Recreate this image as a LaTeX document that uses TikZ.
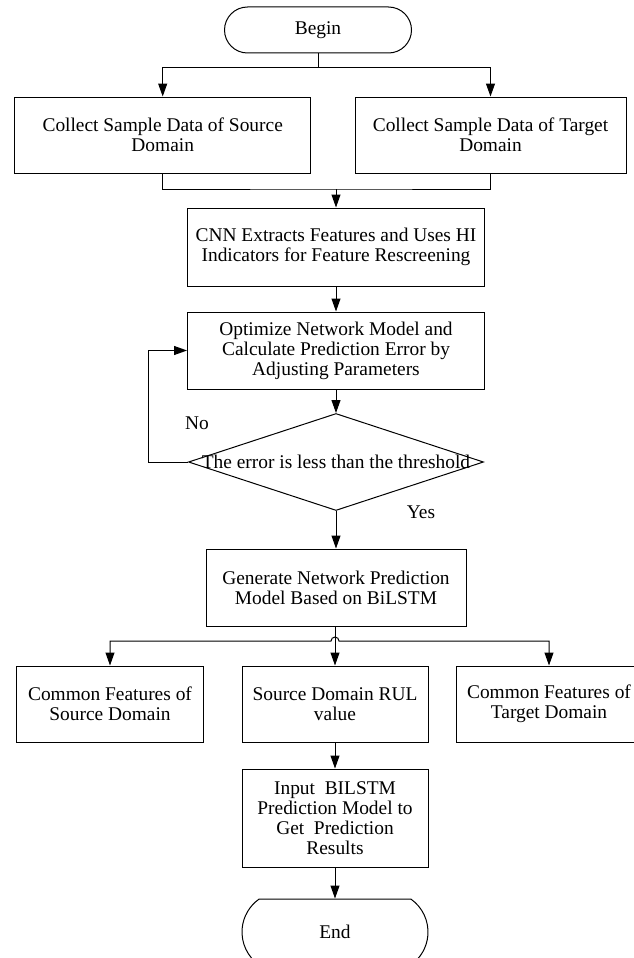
\documentclass[tikz,border=0pt]{standalone}
\usepackage{fontspec}
\setmainfont{Liberation Serif}
\usetikzlibrary{shapes.geometric,shapes.misc,arrows.meta,calc}

\begin{document}
\begin{tikzpicture}[x=1pt,y=-1pt,line width=1pt,
  font=\fontsize{19.4}{20}\selectfont,
  every node/.style={inner sep=0pt},
  procbox/.style={draw, rectangle, align=center, minimum height=76pt},
  termbox/.style={draw, rounded rectangle, minimum width=186pt},
  decbox/.style={draw, diamond, minimum width=295pt, minimum height=97pt},
  tip/.style={-{Triangle[length=13pt,width=9pt]}},
  twotip/.style={{Triangle[length=13pt,width=9pt]}-{Triangle[length=13pt,width=9pt]}},
]
\useasboundingbox (0,0) rectangle (633,958);

% terminals
\node[termbox, minimum height=46pt, minimum width=187pt] (begin) at (318,30) {Begin};
\node[termbox, minimum height=66pt, rounded rectangle arc length=110] (end) at (335,932) {End};

% data collection
\node[procbox, minimum width=296.5pt] (srcdata) at (162.7,135) {Collect Sample Data of Source\\Domain};
\node[procbox, minimum width=271pt] (tgtdata) at (490.5,135) {Collect Sample Data of Target\\Domain};

% main column
\node[procbox, minimum width=297pt, minimum height=78pt] (cnn) at (336,247) {CNN Extracts Features and Uses HI\\Indicators for Feature Rescreening};
\node[procbox, minimum width=297pt, minimum height=77pt] (opt) at (336,350.5) {Optimize Network Model and\\Calculate Prediction Error by\\Adjusting Parameters};
\node[decbox] (dec) at (336,462) {};
\node (dectext) at (dec.center) {The error is less than the threshold};
\node[procbox, minimum width=260pt, minimum height=77pt] (gen) at (336,587.5) {Generate Network Prediction\\Model Based on BiLSTM};

% outputs
\node[procbox, minimum width=186.5pt] (comsrc) at (110,704) {Common Features of\\Source Domain};
\node[procbox, minimum width=186pt] (rul) at (335,704) {Source Domain RUL\\value};
\node[procbox, minimum width=186pt] (comtgt) at (549,704) {Common Features of\\Target Domain};
\node[procbox, minimum width=186pt, minimum height=98pt] (inp) at (335,818) {Input\ \ BILSTM\\Prediction Model to\\Get\ \ Prediction\\Results};

% labels
\node (no) at (197,423) {No};
\node (yes) at (421,512) {Yes};

% junction points
\coordinate (split) at (318,68);
\coordinate (join) at (336,189);
\coordinate (bus) at (335,641);

% connectors
\draw[tip] (begin.south) -- (split) -| (srcdata.north);
\draw[tip] (split) -| (tgtdata.north);
\draw (srcdata.south) |- (join) -| (tgtdata.south);
\draw[tip] (join) -- (cnn.north);
\draw[tip] (cnn.south) -- (opt.north);
\draw[tip] (opt.south) -- (dec.north);
\draw[tip] (dec.west) -- ++(-40,0) |- (opt.west);
\draw[tip] (dec.south) -- (gen.north);
\draw[tip] (gen.south -| rul.north) -- (rul.north);
\draw[twotip] (comsrc.north) -- (comsrc.north |- bus) -- ($(bus)+(-4,0)$)
  arc[start angle=180, end angle=360, radius=4] -- (comtgt.north |- bus) -- (comtgt.north);
\draw[tip] (rul.south) -- (inp.north);
\draw[tip] (inp.south) -- (end.north);
\end{tikzpicture}
\end{document}
